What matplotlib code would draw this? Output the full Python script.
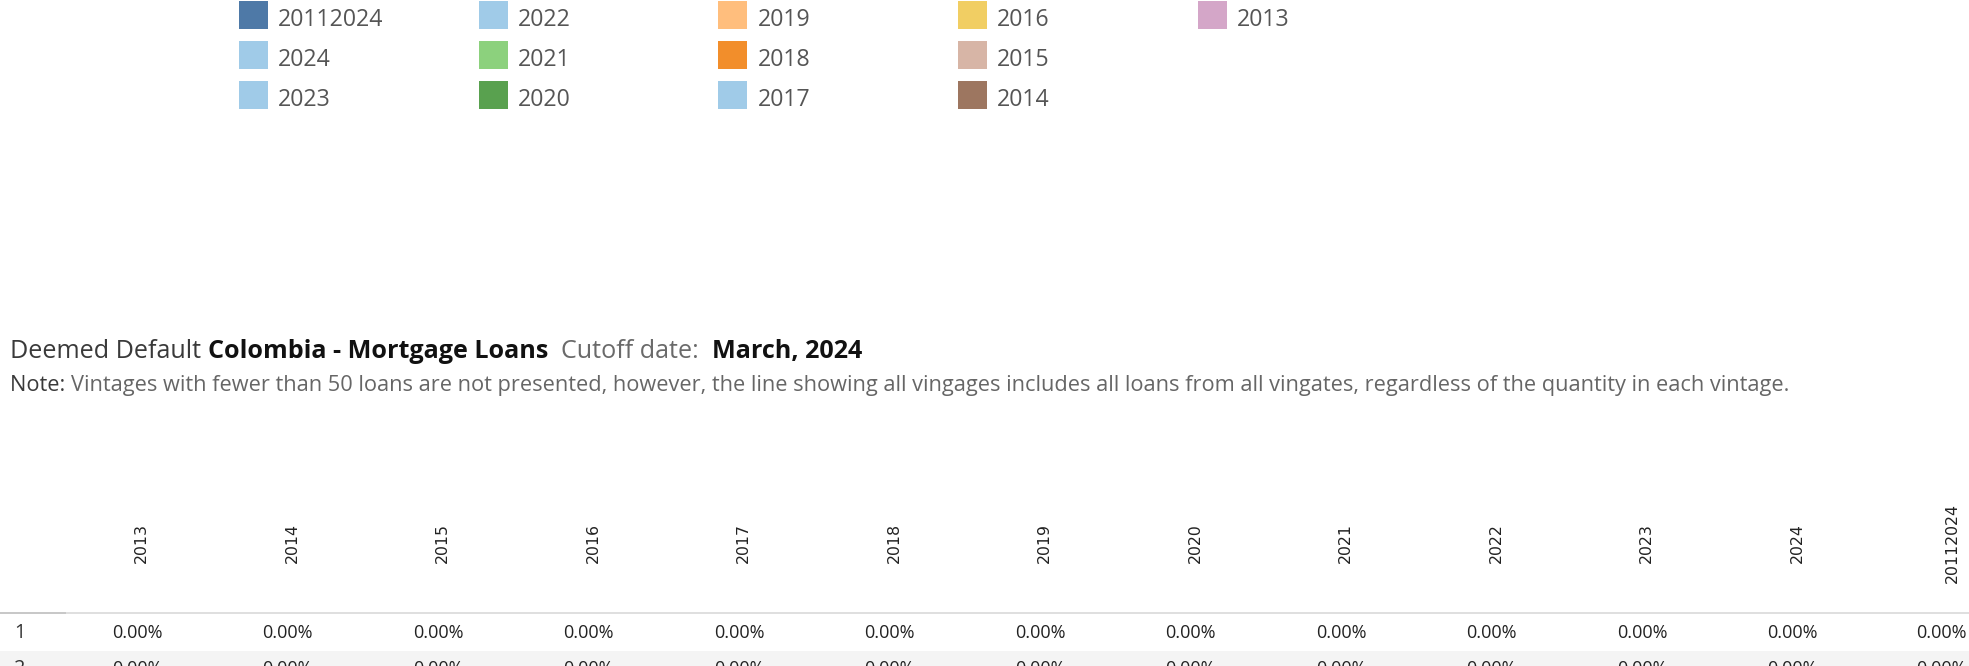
import matplotlib
matplotlib.use("Agg")
import matplotlib.pyplot as plt
from matplotlib.patches import Rectangle

# legend entries (column-major order, as shown)
legend_labels = ["20112024", "2024", "2023",
                 "2022", "2021", "2020",
                 "2019", "2018", "2017",
                 "2016", "2015", "2014",
                 "2013"]
legend_colors = ["#4e79a7", "#a0cbe8", "#a0cbe8",
                 "#a0cbe8", "#8cd17d", "#59a14f",
                 "#ffbe7d", "#f28e2b", "#a0cbe8",
                 "#f1ce63", "#d7b5a6", "#9d7660",
                 "#d4a6c8"]

# table
vintages = ["2013", "2014", "2015", "2016", "2017", "2018", "2019",
            "2020", "2021", "2022", "2023", "2024", "20112024"]
row_labels = ["1", "2"]
row1_values = [0.00] * 13
row2_values = [0.00] * 13

title_parts = [("Deemed Default ", "#3a3a3a", "normal"),
               ("Colombia - Mortgage Loans", "#111111", "bold"),
               ("  Cutoff date:  ", "#6a6a6a", "normal"),
               ("March, 2024", "#111111", "bold")]
note_parts = [("Note: ", "#3a3a3a", "normal"),
              ("Vintages with fewer than 50 loans are not presented, however, the line showing all vingages "
               "includes all loans from all vingates, regardless of the quantity in each vintage.", "#666666", "normal")]

W, H = 1969, 666
fig = plt.figure(figsize=(W / 100, H / 100), dpi=100)
ax = fig.add_axes([0, 0, 1, 1])
ax.set_xlim(0, W)
ax.set_ylim(H, 0)
ax.axis("off")

ui_font = "Open Sans"
renderer = fig.canvas.get_renderer()


def text_width(parts, size):
    w = 0
    for txt, col, wt in parts:
        t = ax.text(0, 0, txt, fontsize=size, family=ui_font, weight=wt)
        w += t.get_window_extent(renderer).width
        t.remove()
    return w


def fit(parts, target):
    return 10 * target / text_width(parts, 10)


# legend
leg_size = fit([("20112024", "", "normal")], 106)
for i, (lab, col) in enumerate(zip(legend_labels, legend_colors)):
    c, r = divmod(i, 3)
    x0 = 239 + c * 239.7
    y0 = 1 + r * 40
    ax.add_patch(Rectangle((x0, y0), 29, 28, facecolor=col, edgecolor="none"))
    ax.text(x0 + 39, y0 + 25, lab, fontsize=leg_size, family=ui_font,
            color="#555555", va="baseline", ha="left")


def draw_run(parts, x, y, size):
    for txt, col, wt in parts:
        t = ax.text(x, y, txt, fontsize=size, family=ui_font, weight=wt,
                    color=col, va="baseline", ha="left")
        x += t.get_window_extent(renderer).width


draw_run(title_parts, 10, 358, fit(title_parts, 855))
draw_run(note_parts, 10, 391, fit(note_parts, 1772))

# column headers
col_x = [141.5 + 150.5 * i for i in range(len(vintages) - 1)] + [1952]
for x, v in zip(col_x, vintages):
    ax.text(x, 543, v, rotation=90, fontsize=11.3, family="DejaVu Sans",
            color="#222222", ha="center", va="center")

# header separator
ax.plot([0, W], [612.5, 612.5], color="#d9d9d9", lw=1.2, solid_capstyle="butt")
ax.plot([0, 66], [612.5, 612.5], color="#c8c8c8", lw=1.4, solid_capstyle="butt")

# rows
val_size = fit([("0.00%", "", "normal")], 51)
ax.add_patch(Rectangle((0, 651), W, 40, facecolor="#f4f4f4", edgecolor="none"))
row_y = [632.5, 669]
for y, lab, vals in zip(row_y, row_labels, [row1_values, row2_values]):
    ax.text(14, y, lab, fontsize=val_size * 1.1, family=ui_font, color="#333333", ha="left", va="center")
    for x, v in zip(col_x, vals):
        ax.text(min(x + 21, W - 2), y, f"{v:.2f}%", fontsize=val_size, family=ui_font,
                color="#222222", ha="right", va="center")

fig.savefig("out.png", dpi=100)
